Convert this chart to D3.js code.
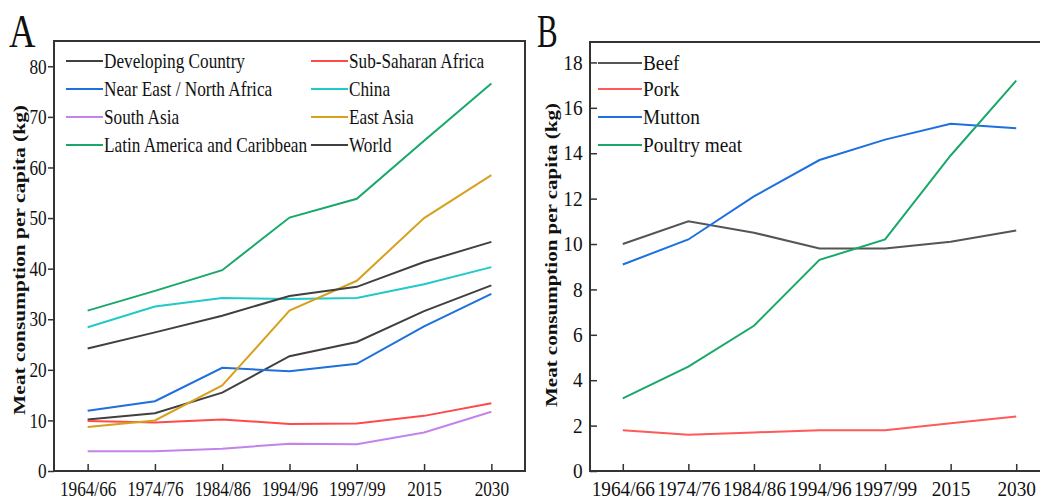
<!DOCTYPE html>
<html>
<head>
<meta charset="utf-8">
<script src="https://cdn.jsdelivr.net/npm/d3@7"></script>
<style>
  body { margin: 0; background: white; }
  text { font-family: "Liberation Serif", "Times New Roman", serif; fill: #111; }
</style>
</head>
<body>
<div id="chart"></div>
<script>
// categories on the x axis (both panels)
const periods = ["1964/66", "1974/76", "1984/86", "1994/96", "1997/99", "2015", "2030"];

// panel A - regions
const developingCountry = [10.2, 11.4, 15.5, 22.7, 25.5, 31.6, 36.7];
const subSaharanAfrica  = [9.9, 9.6, 10.2, 9.3, 9.4, 10.9, 13.4];
const nearEastNAfrica   = [11.9, 13.8, 20.4, 19.7, 21.2, 28.6, 35.0];
const china             = [28.4, 32.5, 34.2, 34.0, 34.2, 36.9, 40.3];
const southAsia         = [3.9, 3.9, 4.4, 5.4, 5.3, 7.6, 11.7];
const eastAsia          = [8.7, 10.0, 16.9, 31.7, 37.6, 50.0, 58.5];
const latinAmerica      = [31.7, 35.6, 39.7, 50.1, 53.8, 65.3, 76.6];
const world             = [24.2, 27.4, 30.7, 34.6, 36.4, 41.3, 45.3];

// panel B - meat types
const beef    = [10.0, 11.0, 10.5, 9.8, 9.8, 10.1, 10.6];
const pork    = [1.8, 1.6, 1.7, 1.8, 1.8, 2.1, 2.4];
const mutton  = [9.1, 10.2, 12.1, 13.7, 14.6, 15.3, 15.1];
const poultry = [3.2, 4.6, 6.4, 9.3, 10.2, 13.9, 17.2];

const ticksA = [0, 10, 20, 30, 40, 50, 60, 70, 80];
const ticksB = [0, 2, 4, 6, 8, 10, 12, 14, 16, 18];

const seriesA = [
  {name: "Developing Country", values: developingCountry, color: "#404040"},
  {name: "Sub-Saharan Africa", values: subSaharanAfrica, color: "#ff4a4a"},
  {name: "Near East / North Africa", values: nearEastNAfrica, color: "#1f6fdc"},
  {name: "China", values: china, color: "#22c9c9"},
  {name: "South Asia", values: southAsia, color: "#c284ea"},
  {name: "East Asia", values: eastAsia, color: "#d6a11e"},
  {name: "Latin America and Caribbean", values: latinAmerica, color: "#1aa86a"},
  {name: "World", values: world, color: "#404040"}
];
const seriesB = [
  {name: "Beef", values: beef, color: "#555555"},
  {name: "Pork", values: pork, color: "#ff5a5a"},
  {name: "Mutton", values: mutton, color: "#1e6fe0"},
  {name: "Poultry meat", values: poultry, color: "#1aa86a"}
];

const svg = d3.select("#chart").append("svg")
  .attr("width", 1040)
  .attr("height", 501);

function panel(opt) {
  const x = d3.scalePoint().domain(periods).range([opt.left, opt.right]).padding(0.5);
  const y = d3.scaleLinear().domain(opt.yMax).range([471, opt.top]);
  const g = svg.append("g");

  // frame
  g.append("rect")
    .attr("x", opt.left).attr("y", opt.top)
    .attr("width", opt.right - opt.left).attr("height", 471 - opt.top)
    .attr("fill", "none").attr("stroke", "#333").attr("stroke-width", 2);

  // lines
  const line = d3.line()
    .x((d, i) => x(periods[i]))
    .y(d => y(d));
  opt.series.forEach(s => {
    g.append("path")
      .datum(s.values)
      .attr("fill", "none")
      .attr("stroke", s.color)
      .attr("stroke-width", 2)
      .attr("d", line);
  });

  // axes
  const xAxis = g.append("g")
    .attr("transform", "translate(0,471)")
    .call(d3.axisBottom(x).tickSizeInner(-7).tickSizeOuter(0).tickPadding(10));
  const yAxis = g.append("g")
    .attr("transform", "translate(" + opt.left + ",0)")
    .call(d3.axisLeft(y).tickValues(opt.ticks).tickSizeInner(opt.yTick).tickSizeOuter(0).tickPadding(opt.yPad));
  [xAxis, yAxis].forEach(a => {
    a.attr("font-family", null);
    a.select(".domain").remove();
    a.selectAll("line").attr("stroke", "#333").attr("stroke-width", 1.5);
    a.selectAll("text")
      .style("font-size", "21px")
      .attr("fill", "#111")
      .attr("transform", "scale(" + opt.sx + ",1)");
  });

  // y axis title
  g.append("text")
    .attr("transform", "translate(" + opt.titleX + "," + opt.titleY + ") rotate(-90)")
    .attr("text-anchor", "middle")
    .attr("dy", "0.35em")
    .style("font-size", "16px")
    .style("font-weight", "bold")
    .attr("textLength", opt.titleLen)
    .attr("lengthAdjust", "spacingAndGlyphs")
    .text("Meat consumption per capita (kg)");

  // panel letter
  g.append("text")
    .attr("transform", "translate(" + opt.letterX + ",47) scale(" + opt.letterSx + ",1)")
    .style("font-size", "47px")
    .text(opt.letter);

  // legend
  opt.series.forEach((s, i) => {
    const col = i % opt.legendCols;
    const row = Math.floor(i / opt.legendCols);
    const item = g.append("g")
      .attr("transform", "translate(" + opt.legendX[col] + "," + opt.legendY[row] + ")");
    item.append("line")
      .attr("x1", 0).attr("x2", opt.legendLine)
      .attr("stroke", s.color).attr("stroke-width", 2);
    item.append("text")
      .attr("transform", "translate(" + (opt.legendLine + 1) + ",0) scale(" + opt.sx + ",1)")
      .attr("dy", "0.35em")
      .style("font-size", "21px")
      .text(s.name);
  });
}

panel({
  left: 54, right: 525, top: 41, yMax: [0, 85], ticks: ticksA,
  series: seriesA, yTick: 6, yPad: 3, sx: 0.82,
  titleX: 19, titleY: 260, titleLen: 310,
  letter: "A", letterX: 9, letterSx: 0.78,
  legendCols: 2, legendX: [66, 311], legendY: [61, 89, 117, 145], legendLine: 37
});

panel({
  left: 590, right: 1049, top: 42, yMax: [0, 18.9], ticks: ticksB,
  series: seriesB, yTick: -7, yPad: 8, sx: 0.92,
  titleX: 551, titleY: 255, titleLen: 304,
  letter: "B", letterX: 537, letterSx: 0.66,
  legendCols: 1, legendX: [598], legendY: [63, 89, 117, 145], legendLine: 44
});
</script>
</body>
</html>
